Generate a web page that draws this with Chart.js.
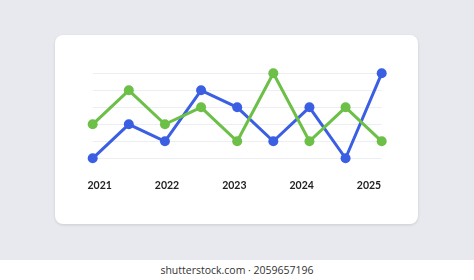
<!DOCTYPE html>
<html>
<head>
<meta charset="utf-8">
<script src="https://cdn.jsdelivr.net/npm/chart.js@4/dist/chart.umd.min.js"></script>
<style>
  html, body { margin: 0; padding: 0; }
  body { width: 474px; height: 280px; background: #fff; position: relative; overflow: hidden; font-family: Lato, sans-serif; }
  .stage { position: absolute; left: 0; top: 0; width: 474px; height: 260px; background: #e7e9ee; }
  .card { position: absolute; left: 55px; top: 35px; width: 363px; height: 189px; background: #fff; border-radius: 8px; box-shadow: 0 1px 3px rgba(0,0,0,0.12); }
  .card canvas { position: absolute; left: 0; top: 0; }
  .footer { position: absolute; left: 0; top: 260px; width: 474px; height: 20px; text-align: center; font: 10.5px "Open Sans", sans-serif; color: #333; line-height: 21px; }
</style>
</head>
<body>
<div class="stage">
  <div class="card"><canvas id="lineChart" width="363" height="189"></canvas></div>
</div>
<div class="footer">shutterstock.com · 2059657196</div>
<script>
// chart data
const points = ['p1', 'p2', 'p3', 'p4', 'p5', 'p6', 'p7', 'p8', 'p9'];
const blueValues = [0, 2, 1, 4, 3, 1, 3, 0, 5];
const greenValues = [2, 4, 2, 3, 1, 5, 1, 3, 1];
const yearLabels = [2021, 2022, 2023, 2024, 2025];

const BLUE = '#3b5fe2';
const GREEN = '#6cbf47';

new Chart(document.getElementById('lineChart').getContext('2d'), {
    type: 'line',
    data: {
        labels: points,
        datasets: [
            {
                data: blueValues,
                borderColor: BLUE,
                backgroundColor: BLUE,
                borderWidth: 3,
                pointRadius: 5,
                pointBorderWidth: 0,
                tension: 0,
                clip: false,
                order: 1
            },
            {
                data: greenValues,
                borderColor: GREEN,
                backgroundColor: GREEN,
                borderWidth: 3,
                pointRadius: 5,
                pointBorderWidth: 0,
                tension: 0,
                clip: false,
                order: 0
            }
        ]
    },
    options: {
        responsive: false,
        animation: false,
        layout: { padding: { left: 37.7, right: 36.3, top: 38.3, bottom: 25.7 } },
        plugins: { legend: { display: false }, tooltip: { enabled: false } },
        scales: {
            x: { display: false },
            years: {
                type: 'linear',
                position: 'bottom',
                min: 2020.896,
                max: 2025.189,
                grid: { display: false, drawTicks: false },
                border: { display: false },
                afterBuildTicks: s => { s.ticks = yearLabels.map(v => ({ value: v })); },
                afterFit: s => { s.height = 40; },
                ticks: {
                    color: '#222',
                    padding: 21.5,
                    maxRotation: 0,
                    autoSkip: false,
                    font: { family: 'Lato', size: 10.5, weight: 'bold' },
                    callback: v => String(v)
                }
            },
            y: {
                min: 0,
                max: 5,
                ticks: { display: false, stepSize: 1 },
                grid: { color: '#eceef2', drawTicks: false, lineWidth: 1 },
                border: { display: false },
                afterFit: s => { s.width = 0; }
            }
        }
    }
});
</script>
</body>
</html>
